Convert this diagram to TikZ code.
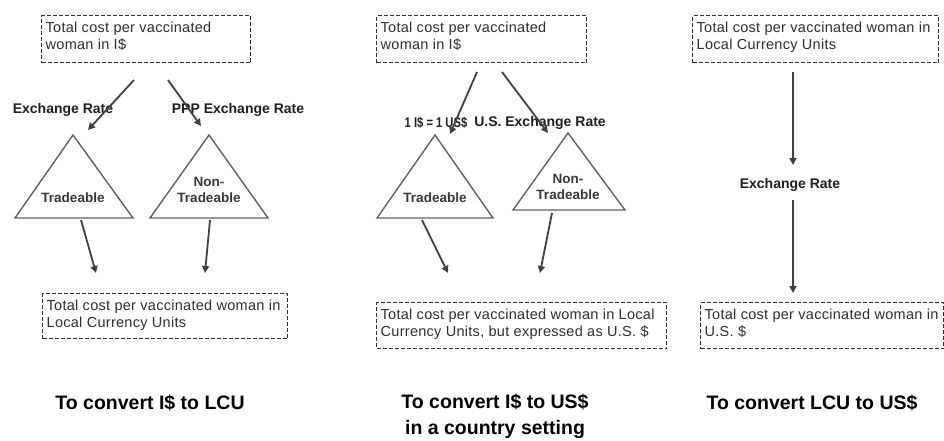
\documentclass[tikz,border=0pt]{standalone}
\usepackage{fontspec}
\setmainfont{Liberation Sans}
\newfontfamily\boxfont[LetterSpace=2]{Liberation Sans}
\usetikzlibrary{arrows.meta}
\tikzset{
 cbox/.style={draw=black!82, dash pattern=on 4pt off 2pt, line width=1.3pt, inner sep=0pt, anchor=north west, text=black!82},
 conn/.style={draw=black!75, line width=1.8pt, -{Triangle[length=7pt,width=7pt]}},
 tri/.style={draw=black!62, line width=1.4pt},
 rlab/.style={font=\fontsize{14}{16}\selectfont\bfseries, text=black!88, inner sep=0pt},
 tlab/.style={font=\fontsize{13.5}{15.5}\selectfont\bfseries, text=black!78, align=center, inner sep=0pt},
 caplab/.style={font=\fontsize{19.5}{26}\selectfont\bfseries, align=center, inner sep=0pt},
}
\newcommand\bxt[3]{\hspace{4pt}\parbox[c][#2][t]{#1}{\boxfont\fontsize{14.5}{16.7}\selectfont\raggedright\rule{0pt}{17pt}#3}}
\begin{document}
\begin{tikzpicture}[x=1pt,y=-1pt]
\useasboundingbox (0,0) rectangle (944,440);
% ---------- panel 1 ----------
\node[cbox] (p1top) at (41,15) {\bxt{205pt}{47pt}{Total cost per vaccinated\\woman in I\$}};
\node[cbox] (p1bot) at (42,293) {\bxt{241pt}{45pt}{Total cost per vaccinated woman in\\Local Currency Units}};
\node[rlab] (p1l1) at (63,110) {Exchange Rate};
\node[rlab] (p1l2) at (238,110) {PPP Exchange Rate};
\coordinate (t1a) at (73,135); \coordinate (t1l) at (15,218); \coordinate (t1r) at (133,218);
\coordinate (t2a) at (209,135); \coordinate (t2l) at (150,218); \coordinate (t2r) at (268,218);
\draw[tri] (t1a) -- (t1l) -- (t1r) -- cycle;
\draw[tri] (t2a) -- (t2l) -- (t2r) -- cycle;
\node[tlab] (t1txt) at (73,198) {Tradeable};
\node[tlab] (t2txt) at (209,190) {Non-\\Tradeable};
\coordinate (a1s) at (134,80); \coordinate (a1e) at (88,130);
\coordinate (a2s) at (168,80); \coordinate (a2e) at (201,126);
\coordinate (a3s) at (81,220); \coordinate (a3e) at (96,273);
\coordinate (a4s) at (210,220); \coordinate (a4e) at (205,273);
\draw[conn] (a1s) -- (a1e);
\draw[conn] (a2s) -- (a2e);
\draw[conn] (a3s) -- (a3e);
\draw[conn] (a4s) -- (a4e);
\node[caplab] (cap1) at (150,403) {To convert I\$ to LCU};
% ---------- panel 2 ----------
\node[cbox] (p2top) at (376,15) {\bxt{206pt}{47pt}{Total cost per vaccinated\\woman in I\$}};
\node[cbox] (p2bot) at (376,302) {\bxt{286pt}{46pt}{Total cost per vaccinated woman in Local\\Currency Units, but expressed as U.S. \$}};
\node[rlab] (p2l1) at (436,123) {\scalebox{0.8}[1]{1 I\$ = 1 US\$}};
\node[rlab] (p2l2) at (540,123) {U.S. Exchange Rate};
\coordinate (t3a) at (435,135); \coordinate (t3l) at (377,218); \coordinate (t3r) at (493,218);
\coordinate (t4a) at (568,133); \coordinate (t4l) at (513,210); \coordinate (t4r) at (625,210);
\draw[tri] (t3a) -- (t3l) -- (t3r) -- cycle;
\draw[tri] (t4a) -- (t4l) -- (t4r) -- cycle;
\node[tlab] (t3txt) at (435,198) {Tradeable};
\node[tlab] (t4txt) at (568,187) {Non-\\Tradeable};
\coordinate (b1s) at (477,72); \coordinate (b1e) at (450,134);
\coordinate (b2s) at (502,72); \coordinate (b2e) at (548,133);
\coordinate (b3s) at (422,220); \coordinate (b3e) at (448,273);
\coordinate (b4s) at (552,213); \coordinate (b4e) at (540,273);
\draw[conn] (b1s) -- (b1e);
\draw[conn] (b2s) -- (b2e);
\draw[conn] (b3s) -- (b3e);
\draw[conn] (b4s) -- (b4e);
\node[caplab] (cap2) at (495,416) {To convert I\$ to US\$\\in a country setting};
% ---------- panel 3 ----------
\node[cbox] (p3top) at (692,15) {\bxt{242pt}{47pt}{Total cost per vaccinated woman in\\Local Currency Units}};
\node[cbox] (p3bot) at (700,302) {\bxt{239pt}{46pt}{Total cost per vaccinated woman in\\U.S. \$}};
\node[rlab] (p3l1) at (790,185) {Exchange Rate};
\coordinate (c1s) at (793,72); \coordinate (c1e) at (793,165);
\coordinate (c2s) at (793,200); \coordinate (c2e) at (793,293);
\draw[conn] (c1s) -- (c1e);
\draw[conn] (c2s) -- (c2e);
\node[caplab] (cap3) at (812,403) {To convert LCU to US\$};
\end{tikzpicture}
\end{document}
